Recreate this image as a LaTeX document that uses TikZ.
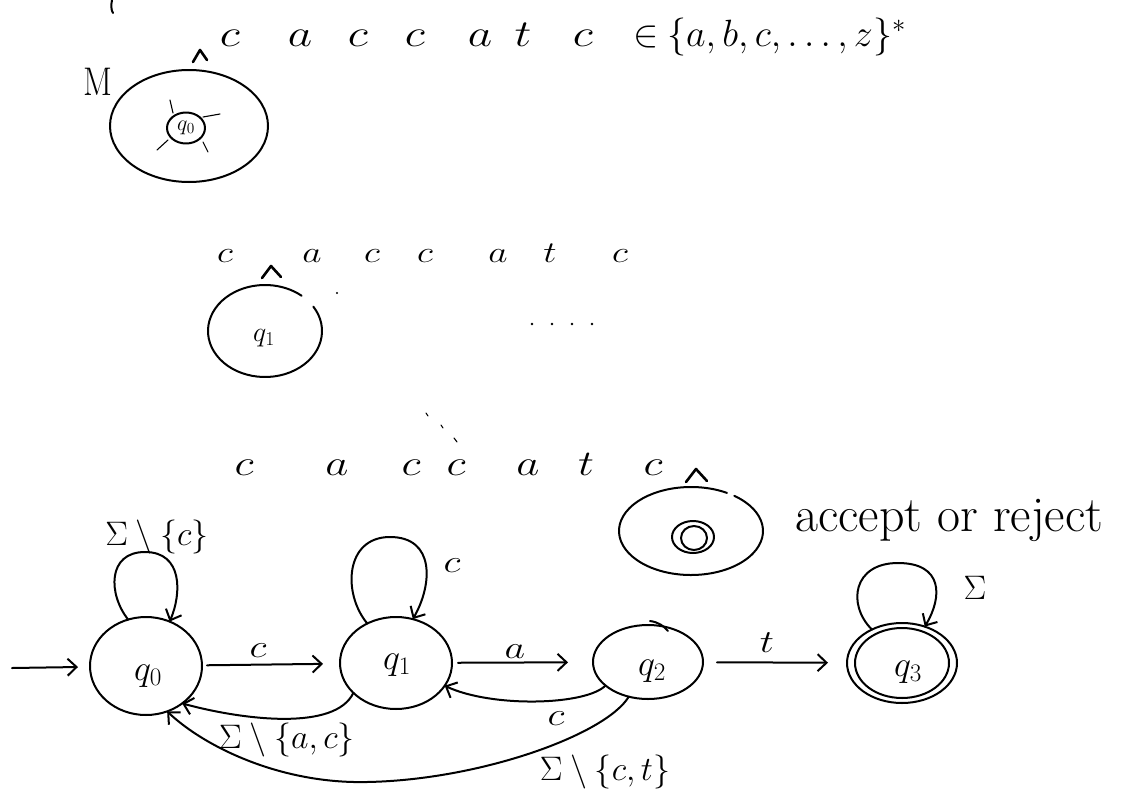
\RequirePackage{fix-cm}
\documentclass[tikz,border=0pt]{standalone}
\usetikzlibrary{arrows.meta,shapes.geometric}
\newcommand\wide[1]{\scalebox{1.25}[1]{#1}}
\begin{document}
\begin{tikzpicture}[x=1pt,y=-1pt,
  ink/.style={line width=2pt, line cap=round, line join=round},
  fine/.style={line width=1.1pt, line cap=round},
  state/.style={ellipse, draw, ink, inner sep=0pt, outer sep=0pt},
  trans/.style={ink, -{Straight Barb[length=9pt,width=17pt,line width=2pt]}},
  symA/.style={inner sep=0pt, anchor=base, font=\fontsize{38}{40}\selectfont},
  symB/.style={inner sep=0pt, anchor=base, font=\fontsize{30}{34}\selectfont},
  symC/.style={inner sep=0pt, anchor=base, font=\fontsize{36}{40}\selectfont},
  lab/.style={inner sep=0pt, font=\fontsize{34}{40}\selectfont},
  elab/.style={inner sep=0pt, font=\fontsize{32}{36}\selectfont},
  qlab/.style={inner sep=0pt, font=\fontsize{36}{40}\selectfont},
  hat/.style={ink, line width=2.6pt}]
\path[use as bounding box, fill=white] (0,0) rectangle (1130,790);

% stroke left over from the line above
\draw[ink] (112,0) .. controls (111,5) and (111,10) .. (113,13);

% ---- machine M at the start of the word ----
\node[inner sep=0pt, font=\fontsize{40}{40}\selectfont] (M) at (98,82) {\scalebox{0.85}[1]{M}};
\draw[ink] (189,126) ellipse [x radius=79, y radius=56];
\node[state, minimum width=38pt, minimum height=31pt] (p0) at (186,128) {};
\node[inner sep=0pt, font=\fontsize{22}{22}\selectfont] (p0l) at (p0) {$q_0$};
\draw[fine] (170,100) -- (173,113);
\draw[fine] (203,117) -- (220,114);
\draw[fine] (157,150) -- (168,140);
\draw[fine] (203,142) -- (208,152);
\draw[hat] (193,62) -- (200,50) -- (207,60);
\foreach \x/\s [count=\i] in {230/c,300/a,358/c,415/c,480/a,523/t,583/c}
  \node[symA, name=w\i] at (\x,46) {\wide{$\s$}};
\node[symA] (in) at (646,46) {$\in$};
\node[symA, anchor=base west] (alpha) at (667,46) {$\{a,b,c,\ldots,z\}^{*}$};

% ---- after one symbol ----
\foreach \x/\s [count=\i] in {225/c,312/a,372/c,425/c,498/a,550/t,620/c}
  \node[symB, name=v\i] at (\x,262) {\wide{$\s$}};
\draw[hat] (262,278) -- (271,266) -- (281,277);
\coordinate (e2) at (265,331);
\draw[ink] ([shift={(-32:57 and 46)}]e2) arc[start angle=-32, end angle=310, x radius=57, y radius=46];
\node[inner sep=0pt, font=\fontsize{28}{28}\selectfont] (p1l) at (264,338) {$q_1$};
\foreach \x in {532,552,572,592} \fill (\x,324) circle (1.3);
\fill (337,293) circle (1.1);

% ---- after the whole word ----
\foreach \x/\s [count=\i] in {244/c,337/a,411/c,456/c,528/a,586/t,653/c}
  \node[symC, name=u\i] at (\x,475) {\wide{$\s$}};
\draw[fine] (426,413) -- (428,416);
\draw[fine] (441,425) -- (443,428);
\draw[fine] (454,438) -- (457,442);
\draw[hat] (686,482) -- (696,469) -- (707,481);
\coordinate (e3) at (691,531);
\draw[ink] ([shift={(-53:72 and 44)}]e3) arc[start angle=-53, end angle=300, x radius=72, y radius=44];
\draw[ink] (693,537) ellipse [x radius=21, y radius=16];
\draw[ink] (694,538) ellipse [x radius=13, y radius=12];
\node[inner sep=0pt, anchor=base west, font=\fontsize{50}{54}\selectfont] (ar) at (795,531) {accept or reject};

% ---- the automaton ----
\node[state, minimum width=112pt, minimum height=98pt] (q0) at (146,666) {};
\node[state, minimum width=112pt, minimum height=92pt] (q1) at (396,663) {};
\node[state, minimum width=110pt, minimum height=74pt] (q2) at (648,662) {};
\node[state, minimum width=110pt, minimum height=80pt] (q3) at (902,663) {};
\draw[ink] (q3.center) ellipse [x radius=47, y radius=35];
\draw[ink] (650,621) .. controls (658,622) and (664,626) .. (668,631);
\node[qlab] at (148,676) {$q_0$};
\node[qlab] at (397,665) {$q_1$};
\node[qlab] at (652,671) {$q_2$};
\node[qlab] at (908,672) {$q_3$};

\coordinate (init) at (12,668);
\draw[trans, shorten >=12pt] (init) -- (q0);

\draw[trans] (q0.111) .. controls +(-20,-25) and +(-38,0) .. (145,552)
  .. controls +(38,0) and +(12,-28) .. (q0.62);
\draw[trans] (q1.126) .. controls +(-25,-30) and +(-45,0) .. (390,537)
  .. controls +(45,0) and +(20,-35) .. (q1.69);
\draw[trans] (q3.132) .. controls +(-25,-25) and +(-45,0) .. (898,563)
  .. controls +(45,0) and +(18,-30) .. (q3.58);

\draw[trans, shorten <=5pt, shorten >=17pt] (q0) -- (q1);
\draw[trans, shorten <=6pt, shorten >=25pt] (q1) -- (q2);
\draw[trans, shorten <=14pt, shorten >=19pt] (q2) -- (q3);

\draw[trans] (q2.209) .. controls +(-20,20) and +(47,22) .. (q1.335);
\draw[trans] (q1.215) .. controls +(-18,38) and +(63,17) .. (q0.314);
\draw[trans] (q2.241) .. controls +(-23,38) and +(113,-2) .. (367,782)
  .. controls +(-87,2) and +(37,35) .. (q0.295);

\node[lab] at (157,537) {$\Sigma\setminus\{c\}$};
\node[elab] at (452,566) {\wide{$c$}};
\node[lab] at (975,588) {$\Sigma$};
\node[elab] at (258,651) {\wide{$c$}};
\node[elab] at (515,652) {\wide{$a$}};
\node[elab] at (767,643) {\wide{$t$}};
\node[elab] at (556,719) {\wide{$c$}};
\node[lab] at (287,740) {$\Sigma\setminus\{a,c\}$};
\node[lab] at (605,772) {$\Sigma\setminus\{c,t\}$};
\end{tikzpicture}
\end{document}
